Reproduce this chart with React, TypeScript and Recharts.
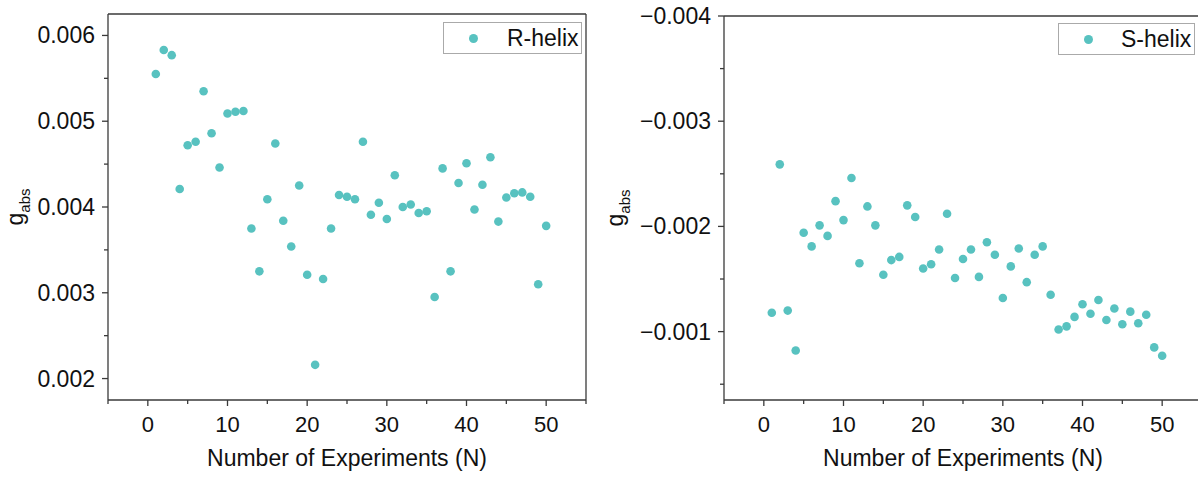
import React from 'react';
import { ScatterChart, Scatter, XAxis, YAxis, Legend } from 'recharts';

const experiments = [
  1, 2, 3, 4, 5, 6, 7, 8, 9, 10, 11, 12, 13, 14, 15, 16, 17, 18, 19, 20, 21, 22, 23, 24, 25,
  26, 27, 28, 29, 30, 31, 32, 33, 34, 35, 36, 37, 38, 39, 40, 41, 42, 43, 44, 45, 46, 47, 48, 49, 50,
];

const rHelix = [
  0.00555, 0.00583, 0.00577, 0.00421, 0.00472, 0.00476, 0.00535, 0.00486, 0.00446, 0.00509,
  0.00511, 0.00512, 0.00375, 0.00325, 0.00409, 0.00474, 0.00384, 0.00354, 0.00425, 0.00321,
  0.00216, 0.00316, 0.00375, 0.00414, 0.00412, 0.00409, 0.00476, 0.00391, 0.00405, 0.00386,
  0.00437, 0.004, 0.00403, 0.00393, 0.00395, 0.00295, 0.00445, 0.00325, 0.00428, 0.00451,
  0.00397, 0.00426, 0.00458, 0.00383, 0.00411, 0.00416, 0.00417, 0.00412, 0.0031, 0.00378,
];

const sHelix = [
  -0.00118, -0.00259, -0.0012, -0.00082, -0.00194, -0.00181, -0.00201, -0.00191, -0.00224, -0.00206,
  -0.00246, -0.00165, -0.00219, -0.00201, -0.00154, -0.00168, -0.00171, -0.0022, -0.00209, -0.0016,
  -0.00164, -0.00178, -0.00212, -0.00151, -0.00169, -0.00178, -0.00152, -0.00185, -0.00173, -0.00132,
  -0.00162, -0.00179, -0.00147, -0.00173, -0.00181, -0.00135, -0.00102, -0.00105, -0.00114, -0.00126,
  -0.00117, -0.0013, -0.00111, -0.00122, -0.00107, -0.00119, -0.00108, -0.00116, -0.00085, -0.00077,
];

const xTicks = [-5, 0, 5, 10, 15, 20, 25, 30, 35, 40, 45, 50, 55];
const rTicks = [0.002, 0.0025, 0.003, 0.0035, 0.004, 0.0045, 0.005, 0.0055, 0.006];
const sTicks = [-0.004, -0.0035, -0.003, -0.0025, -0.002, -0.0015, -0.001, -0.0005];

const xDomain = [-5, 55];
const rDomain = [0.00175, 0.00625];
const sDomain = [-0.004, -0.00035];

const FONT = '"Liberation Sans", Arial, Helvetica, sans-serif';
const TEAL = '#58c2c0';
const AXIS = '#3a3a3a';
const TEXT = '#111111';

const rData = experiments.map((n, i) => ({ n, g: rHelix[i] }));
const sData = experiments.map((n, i) => ({ n, g: sHelix[i] }));

const XTick = (props: any) => {
  const { x, y, payload } = props;
  const v = payload.value;
  const major = Math.abs(v % 10) < 1e-9;
  return (
    <g>
      <line x1={x} x2={x} y1={y} y2={y + (major ? 6 : 4)} stroke={AXIS} strokeWidth={1.3} />
      {major && (
        <text x={x} y={y + 32} textAnchor="middle" fontSize={22} fontFamily={FONT} fill={TEXT}>
          {v}
        </text>
      )}
    </g>
  );
};

const makeYTick = (fmt: (v: number) => string) => (props: any) => {
  const { x, y, payload } = props;
  const v = payload.value;
  const k = Math.round(v * 10000);
  const major = k % 10 === 0;
  return (
    <g>
      <line x1={x - (major ? 6 : 4)} x2={x} y1={y} y2={y} stroke={AXIS} strokeWidth={1.3} />
      {major && (
        <text x={x - 13} y={y} dy="0.35em" textAnchor="end" fontSize={23} fontFamily={FONT} fill={TEXT}>
          {fmt(v)}
        </text>
      )}
    </g>
  );
};

const RTick = makeYTick((v) => v.toFixed(3));
const STick = makeYTick((v) => v.toFixed(3).replace('-', '\u2212'));

const XTitle = (props: any) => {
  const vb = props.viewBox;
  return (
    <text x={vb.x + vb.width / 2} y={vb.y + 66} textAnchor="middle" fontSize={23} fontFamily={FONT} fill={TEXT}>
      Number of Experiments (N)
    </text>
  );
};

const YTitle = (props: any) => {
  const vb = props.viewBox;
  const cy = vb.y + vb.height / 2;
  return (
    <text transform={`translate(23, ${cy}) rotate(-90)`} textAnchor="middle" fontFamily={FONT} fill={TEXT}>
      <tspan fontSize={23}>g</tspan>
      <tspan fontSize={15} dy={7}>abs</tspan>
    </text>
  );
};

const Dot = (p: any) => <circle cx={p.cx} cy={p.cy} r={4.3} fill={TEAL} />;

const LegendBox = ({ label, dotX, textX }: { label: string; dotX: number; textX: number }) => (
  <div
    style={{
      position: 'relative',
      width: '100%',
      height: '100%',
      boxSizing: 'border-box',
      border: '1px solid #aaaaaa',
      background: '#fff',
      fontFamily: FONT,
    }}
  >
    <div
      style={{
        position: 'absolute',
        left: dotX - 4.5,
        top: '50%',
        marginTop: -4.5,
        width: 9,
        height: 9,
        borderRadius: '50%',
        background: TEAL,
      }}
    />
    <div
      style={{
        position: 'absolute',
        left: textX,
        top: 0,
        height: '100%',
        display: 'flex',
        alignItems: 'center',
        fontSize: 23,
        color: TEXT,
        lineHeight: 1,
      }}
    >
      {label}
    </div>
  </div>
);

export default function App() {
  return (
    <div
      style={{
        position: 'absolute',
        left: 0,
        top: 0,
        width: 1198,
        height: 478,
        overflow: 'hidden',
        background: '#ffffff',
      }}
    >
      <div style={{ position: 'absolute', left: 0, top: 0 }}>
        <ScatterChart width={600} height={478} margin={{ top: 13, right: 13, bottom: 0, left: 0 }}>
          <XAxis
            dataKey="n"
            type="number"
            domain={xDomain}
            ticks={xTicks}
            interval={0}
            allowDataOverflow
            height={78}
            tickSize={0}
            tickMargin={0}
            tickLine={false}
            tick={XTick}
            axisLine={{ stroke: AXIS, strokeWidth: 1.3 }}
            label={<XTitle />}
          />
          <XAxis
            xAxisId="top"
            orientation="top"
            type="number"
            domain={xDomain}
            height={1}
            tick={false}
            tickLine={false}
            axisLine={{ stroke: AXIS, strokeWidth: 1.3 }}
          />
          <YAxis
            dataKey="g"
            type="number"
            domain={rDomain}
            ticks={rTicks}
            interval={0}
            allowDataOverflow
            width={108}
            tickSize={0}
            tickMargin={0}
            tickLine={false}
            tick={RTick}
            axisLine={{ stroke: AXIS, strokeWidth: 1.3 }}
            label={<YTitle />}
          />
          <YAxis
            yAxisId="right"
            orientation="right"
            type="number"
            domain={rDomain}
            width={1}
            tick={false}
            tickLine={false}
            axisLine={{ stroke: AXIS, strokeWidth: 1.3 }}
          />
          <Legend
            layout="vertical"
            align="center"
            verticalAlign="middle"
            wrapperStyle={{ left: 443, top: 22, width: 139, height: 32 }}
            content={() => <LegendBox label="R-helix" dotX={29} textX={63} />}
          />
          <Scatter name="R-helix" data={rData} fill={TEAL} shape={Dot} isAnimationActive={false} />
        </ScatterChart>
      </div>
      <div style={{ position: 'absolute', left: 600, top: 0 }}>
        <ScatterChart width={610} height={478} margin={{ top: 15, right: 7, bottom: 0, left: 0 }}>
          <XAxis
            dataKey="n"
            type="number"
            domain={xDomain}
            ticks={xTicks}
            interval={0}
            allowDataOverflow
            height={78}
            tickSize={0}
            tickMargin={0}
            tickLine={false}
            tick={XTick}
            axisLine={{ stroke: AXIS, strokeWidth: 1.3 }}
            label={<XTitle />}
          />
          <XAxis
            xAxisId="top"
            orientation="top"
            type="number"
            domain={xDomain}
            height={1}
            tick={false}
            tickLine={false}
            axisLine={{ stroke: AXIS, strokeWidth: 1.3 }}
          />
          <YAxis
            dataKey="g"
            type="number"
            domain={sDomain}
            ticks={sTicks}
            interval={0}
            reversed
            allowDataOverflow
            width={124}
            tickSize={0}
            tickMargin={0}
            tickLine={false}
            tick={STick}
            axisLine={{ stroke: AXIS, strokeWidth: 1.3 }}
            label={<YTitle />}
          />
          <YAxis
            yAxisId="right"
            orientation="right"
            type="number"
            domain={sDomain}
            reversed
            width={1}
            tick={false}
            tickLine={false}
            axisLine={{ stroke: AXIS, strokeWidth: 1.3 }}
          />
          <Legend
            layout="vertical"
            align="center"
            verticalAlign="middle"
            wrapperStyle={{ left: 458, top: 23, width: 137, height: 32 }}
            content={() => <LegendBox label="S-helix" dotX={29.5} textX={62} />}
          />
          <Scatter name="S-helix" data={sData} fill={TEAL} shape={Dot} isAnimationActive={false} />
        </ScatterChart>
      </div>
    </div>
  );
}
